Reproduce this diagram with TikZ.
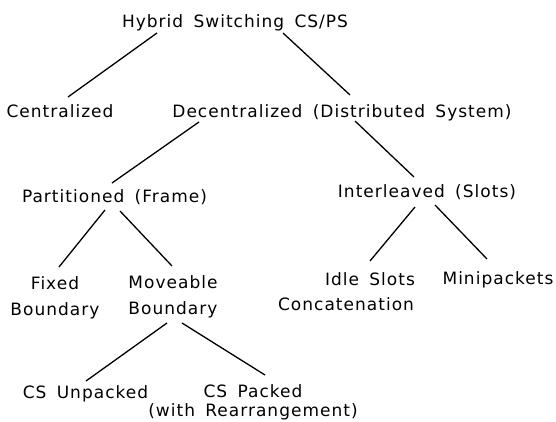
\documentclass[tikz,border=0pt]{standalone}
\usepackage{fontspec}
\setmainfont{DejaVu Sans}[LetterSpace=6,WordSpace=1.6]
\begin{document}
\begin{tikzpicture}[x=1pt,y=-1pt,
  lbl/.style={inner sep=0pt,anchor=base,font=\fontsize{17}{25.5}\selectfont,text=black},
  lbltwo/.style={inner sep=0pt,anchor=north,align=center,font=\fontsize{17}{25.5}\selectfont,text=black},
  edge/.style={line width=1.3pt,black}]
\useasboundingbox (0,0) rectangle (556,422);
% one-line labels, placed by their baselines
\node[lbl] (top)   at (235,27.5)  {Hybrid Switching CS/PS};
\node[lbl] (cen)   at (60,118)    {Centralized};
\node[lbl] (dec)   at (342,118)   {Decentralized (Distributed System)};
\node[lbl] (part)  at (114.5,202.5) {Partitioned (Frame)};
\node[lbl] (inter) at (427,197.5) {Interleaved (Slots)};
\node[lbl] (mini)  at (498,284)   {Minipackets};
\node[lbl] (unp)   at (85.5,398)  {CS Unpacked};
% two-line labels, placed by their top edges
\node[lbltwo] (fix)  at (55,276.6)  {Fixed\\Boundary};
\node[lbltwo] (move) at (173,275.6) {Moveable\\Boundary};
\node[lbltwo] (idle) at (346,272.1) {\hspace*{48pt}Idle Slots\\Concatenation};
\node[lbltwo] (pack) at (253,384.1) {CS Packed\\[-6pt](with Rearrangement)};
% tree branches
\draw[edge] ([shift={(-78,5.5)}]top.base)   -- ([shift={(8,-21)}]cen.base);
\draw[edge] ([shift={(48,5.5)}]top.base)    -- ([shift={(8,-23)}]dec.base);
\draw[edge] ([shift={(-143,4)}]dec.base)    -- ([shift={(-2.5,-19.5)}]part.base);
\draw[edge] ([shift={(13,3)}]dec.base)      -- ([shift={(-13,-20.5)}]inter.base);
\draw[edge] ([shift={(-9.5,7.5)}]part.base) -- ([shift={(4,-9.6)}]fix.north);
\draw[edge] ([shift={(5.5,8.5)}]part.base)  -- ([shift={(-1,-9.6)}]move.north);
\draw[edge] ([shift={(-12,9.5)}]inter.base) -- ([shift={(24,-11.1)}]idle.north);
\draw[edge] ([shift={(8,7.5)}]inter.base)   -- ([shift={(-11,-25)}]mini.base);
\draw[edge] ([shift={(-6,47.4)}]move.north) -- ([shift={(0.5,-17)}]unp.base);
\draw[edge] ([shift={(9,47.4)}]move.north)  -- ([shift={(12,-9.1)}]pack.north);
\end{tikzpicture}
\end{document}
